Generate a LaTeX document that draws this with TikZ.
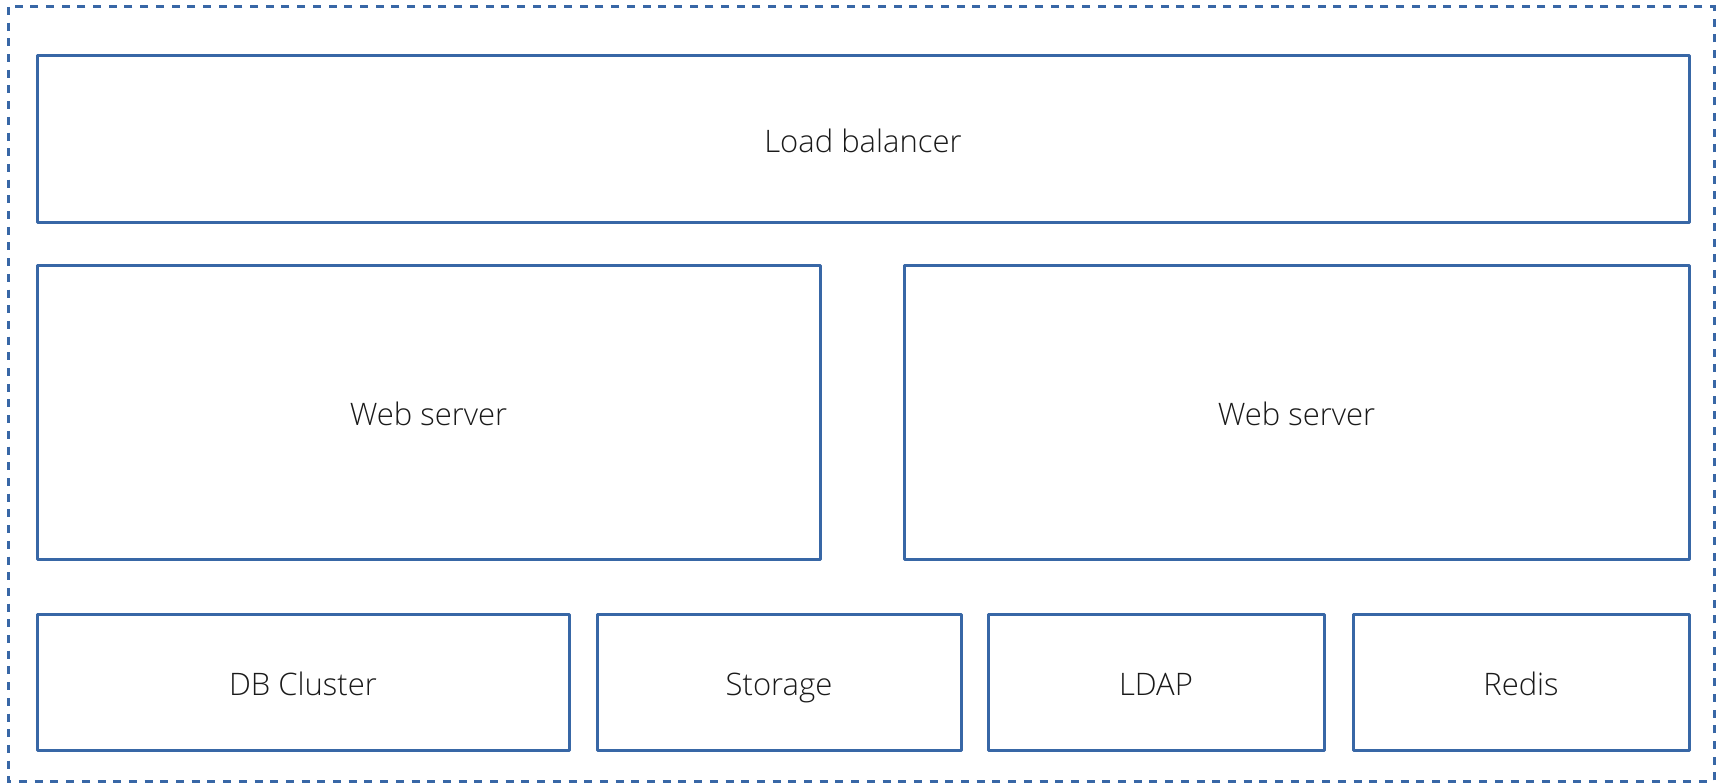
\documentclass[tikz,border=0pt]{standalone}
\usepackage{fontspec}
\setmainfont{Open Sans}[UprightFont={* Light}]
\usepackage{xcolor}
\usetikzlibrary{positioning}

\definecolor{boxblue}{HTML}{3867A6}
\definecolor{boxtext}{HTML}{1A1A1A}

\begin{document}
\begin{tikzpicture}[x=1pt, y=1pt,
    box/.style={rectangle, draw=boxblue, line width=3pt, line join=round,
        text=boxtext, font=\fontsize{31}{37}\selectfont, inner sep=0pt, outer sep=0pt,
        text height=30pt, text depth=4pt},
    frame/.style={draw=boxblue, line width=3pt, dash pattern=on 8pt off 7.7pt}]
    \useasboundingbox (0,0) rectangle (1716,-783);

    % Outer frame
    \draw[frame] (8,-7) rectangle (1714,-781);

    % Load balancer
    \node[box, minimum width=1652pt, minimum height=167pt] (lb) at (863,-139.5) {Load balancer};

    % Web servers
    \node[box, minimum width=783pt, minimum height=293pt, below right=43pt and 0pt of lb.south west] (web1) {Web server};
    \node[box, minimum width=785pt, minimum height=293pt, below left=43pt and 0pt of lb.south east] (web2) {Web server};

    % Backend services
    \node[box, minimum width=532pt, minimum height=136pt, below right=55pt and 0pt of web1.south west] (db) {DB Cluster};
    \node[box, minimum width=364pt, minimum height=136pt, right=28pt of db] (storage) {Storage};
    \node[box, minimum width=336pt, minimum height=136pt, right=27pt of storage] (ldap) {LDAP};
    \node[box, minimum width=336pt, minimum height=136pt, right=29pt of ldap] (redis) {Redis};
\end{tikzpicture}
\end{document}
